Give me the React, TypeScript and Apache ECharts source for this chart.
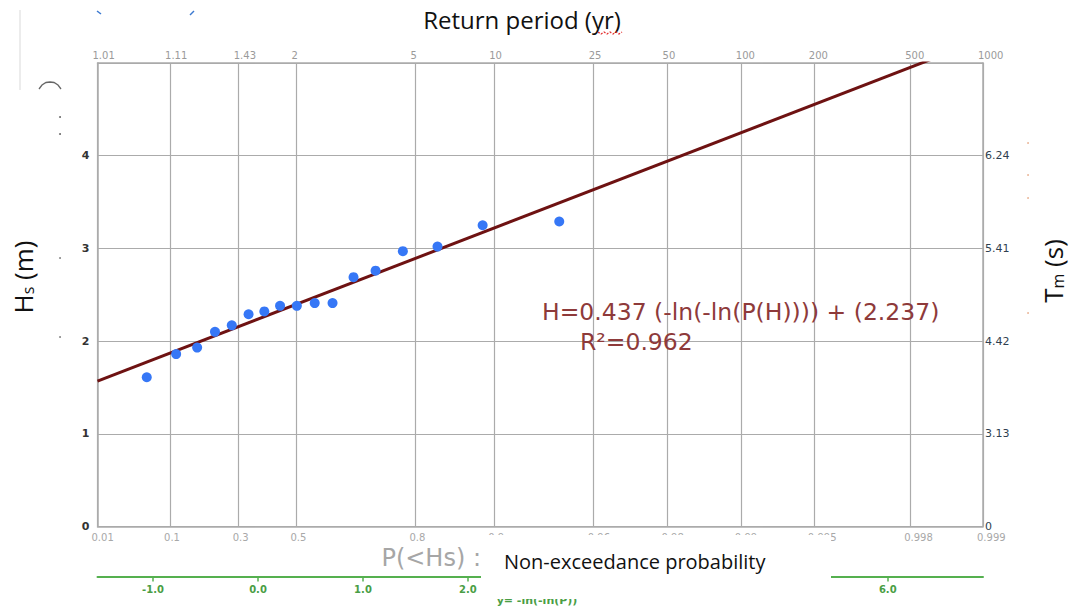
import React, { useEffect, useRef } from 'react';
import * as echarts from 'echarts';

// Return-period ticks (top axis) and their non-exceedance probabilities (bottom axis)
const returnPeriods = [1.01, 1.11, 1.43, 2, 5, 10, 25, 50, 100, 200, 500, 1000];
const returnPeriodLabels = ['1.01', '1.11', '1.43', '2', '5', '10', '25', '50', '100', '200', '500', '1000'];
const probabilityLabels = ['0.01', '0.1', '0.3', '0.5', '0.8', '0.9', '0.96', '0.98', '0.99', '0.995', '0.998', '0.999'];
// Gumbel reduced-variate ticks (green axis)
const reducedTicks = [-1, 0, 1, 2, 6];
// Hs ticks (left) and matching Tm labels (right)
const hsTicks = [0, 1, 2, 3, 4];
const tmLabels = ['0', '3.13', '4.42', '5.41', '6.24'];
// Observed annual maxima: reduced variate y = -ln(-ln(P)) and Hs (m)
const obsReduced = [-1.06, -0.78, -0.58, -0.41, -0.25, -0.09, 0.06, 0.21, 0.37, 0.54, 0.71, 0.91, 1.12, 1.38, 1.71, 2.14, 2.87];
const obsHs = [1.61, 1.86, 1.93, 2.10, 2.17, 2.29, 2.32, 2.38, 2.38, 2.41, 2.41, 2.69, 2.76, 2.97, 3.02, 3.25, 3.29];
// Fitted Gumbel line
const fitSlope = 0.437;
const fitIntercept = 2.237;
const rSquared = 0.962;

const gumbel = (T: number) => -Math.log(-Math.log(1 - 1 / T));
const periodTicks = returnPeriods.map(gumbel);
const X_MIN = periodTicks[0];
const X_MAX = periodTicks[periodTicks.length - 1];

const labelAt = (labels: string[]) => (v: number) => {
  const i = periodTicks.findIndex((t) => Math.abs(t - v) < 1e-6);
  return i >= 0 ? labels[i] : '';
};

const GREEN = '#55b04f';
const GRID = '#ababab';
const VERDANA = '"DejaVu Sans", Verdana, sans-serif';
const SANS = '"Open Sans", "Noto Sans", sans-serif';

export default function App() {
  const ref = useRef<HTMLDivElement>(null);
  useEffect(() => {
    if (!ref.current) return;
    const chart = echarts.init(ref.current, undefined, { renderer: 'svg' });
    const scatterData = obsReduced.map((x, i) => [x, obsHs[i]]);
    const lineData = [X_MIN, X_MAX].map((x) => [x, fitSlope * x + fitIntercept]);
    const richName = {
      a: { font: `26px ${SANS}`, fill: '#111', lineHeight: 32, verticalAlign: 'bottom' },
      b: { font: `16px ${SANS}`, fill: '#111', lineHeight: 18, verticalAlign: 'bottom' },
    };
    chart.setOption({
      animation: false,
      backgroundColor: '#ffffff',
      grid: { left: 97.5, right: 97, top: 63, bottom: 81.5, containLabel: false, outerBoundsMode: 'none' },
      xAxis: [
        {
          type: 'value', position: 'bottom', min: X_MIN, max: X_MAX,
          axisLine: { show: true, onZero: false, lineStyle: { color: GRID, width: 1.5 } },
          axisTick: { show: false, customValues: periodTicks },
          splitLine: { show: true, lineStyle: { color: GRID, width: 1.2 } },
          axisLabel: {
            customValues: periodTicks, formatter: labelAt(probabilityLabels),
            color: '#a8a8a8', fontSize: 10, fontFamily: VERDANA, margin: 6,
            align: 'left', padding: [0, 0, 0, -6],
          },
        },
        {
          type: 'value', position: 'top', min: X_MIN, max: X_MAX,
          axisLine: { show: true, onZero: false, lineStyle: { color: GRID, width: 1.5 } },
          axisTick: { show: false, customValues: periodTicks },
          splitLine: { show: false },
          axisLabel: {
            customValues: periodTicks, formatter: labelAt(returnPeriodLabels),
            color: '#9a9a9a', fontSize: 10, fontFamily: VERDANA, margin: 3,
            align: 'left', padding: [0, 0, 0, -5],
          },
        },
        {
          type: 'value', position: 'bottom', offset: 50, min: X_MIN, max: X_MAX,
          axisLine: { show: true, onZero: false, lineStyle: { color: GREEN, width: 2 } },
          axisTick: { show: true, customValues: reducedTicks, length: 5, lineStyle: { color: GREEN, width: 1.5 } },
          splitLine: { show: false },
          axisLabel: {
            customValues: reducedTicks, formatter: (v: number) => v.toFixed(1),
            color: '#4a9e45', fontSize: 10, fontWeight: 'bold', fontFamily: VERDANA, margin: 8,
          },
        },
      ],
      yAxis: [
        {
          type: 'value', position: 'left', min: 0, max: 5, interval: 1,
          axisLine: { show: true, onZero: false, lineStyle: { color: GRID, width: 1.5 } },
          axisTick: { show: false },
          splitLine: { show: true, lineStyle: { color: GRID, width: 1.2 } },
          axisLabel: {
            formatter: (v: number) => (hsTicks.includes(v) ? String(v) : ''),
            color: '#333333', fontSize: 11, fontWeight: 'bold', fontFamily: VERDANA, margin: 8,
          },
        },
        {
          type: 'value', position: 'right', min: 0, max: 5, interval: 1,
          axisLine: { show: true, onZero: false, lineStyle: { color: GRID, width: 1.5 } },
          axisTick: { show: false },
          splitLine: { show: false },
          axisLabel: {
            formatter: (v: number) => { const i = hsTicks.indexOf(v); return i >= 0 ? tmLabels[i] : ''; },
            color: '#2f3f50', fontSize: 11, fontFamily: VERDANA, margin: 2,
          },
        },
      ],
      series: [
        {
          type: 'line', xAxisIndex: 0, yAxisIndex: 0, data: lineData, symbol: 'none', clip: true,
          lineStyle: { color: '#6e1212', width: 3 }, z: 3, silent: true,
        },
        {
          type: 'scatter', xAxisIndex: 0, yAxisIndex: 0, data: scatterData, symbol: 'circle', symbolSize: 10,
          itemStyle: { color: '#3677f6', opacity: 1 }, z: 4,
        },
      ],
      graphic: [
        // faint artefacts from the original screenshot
        { type: 'line', z: 10, shape: { x1: 20, y1: 10, x2: 20, y2: 90 }, style: { stroke: '#e6e6e6', lineWidth: 1.5 } },
        {
          type: 'polyline', z: 10,
          shape: { points: [[39, 89], [42, 85], [46, 82.5], [50, 82], [54, 82.5], [58, 85], [61, 89]] },
          style: { stroke: '#666', lineWidth: 1.3, fill: null },
        },
        { type: 'circle', z: 10, shape: { cx: 60, cy: 117, r: 0.9 }, style: { fill: '#555' } },
        { type: 'circle', z: 10, shape: { cx: 60, cy: 134, r: 0.9 }, style: { fill: '#555' } },
        { type: 'circle', z: 10, shape: { cx: 60, cy: 258, r: 0.9 }, style: { fill: '#777' } },
        { type: 'circle', z: 10, shape: { cx: 60, cy: 337, r: 0.9 }, style: { fill: '#777' } },
        { type: 'circle', z: 10, shape: { cx: 1028, cy: 143, r: 0.9 }, style: { fill: '#e8b090' } },
        { type: 'circle', z: 10, shape: { cx: 1028, cy: 175, r: 0.9 }, style: { fill: '#e8b090' } },
        { type: 'circle', z: 10, shape: { cx: 1028, cy: 198, r: 0.9 }, style: { fill: '#e8b090' } },
        { type: 'circle', z: 10, shape: { cx: 1028, cy: 313, r: 0.9 }, style: { fill: '#e8b090' } },
        { type: 'line', z: 10, shape: { x1: 97, y1: 11, x2: 101, y2: 14 }, style: { stroke: '#3b79d0', lineWidth: 1.5 } },
        { type: 'line', z: 10, shape: { x1: 190, y1: 15, x2: 194, y2: 11 }, style: { stroke: '#3b79d0', lineWidth: 1.5 } },
        // title
        {
          type: 'text', z: 20, x: 522, y: 19,
          style: { text: 'Return period (yr)', font: `24px ${SANS}`, fill: '#111', align: 'center', verticalAlign: 'middle' },
        },
        {
          type: 'polyline', z: 21,
          shape: { points: [[598, 32], [601, 34], [604, 32], [607, 34], [610, 32], [613, 34], [616, 32], [619, 34], [622, 32]] },
          style: { stroke: '#e53030', lineWidth: 1.3, fill: null, lineDash: [2, 1.5] },
        },
        // left axis name
        {
          type: 'text', z: 20, x: 20, y: 277, rotation: Math.PI / 2,
          style: { text: '{a|H}{b|s}{a| (m)}', align: 'center', verticalAlign: 'middle', rich: richName },
        },
        // right axis name
        {
          type: 'text', z: 20, x: 1050, y: 271, rotation: Math.PI / 2,
          style: { text: '{a|T}{b|m}{a| (s)}', align: 'center', verticalAlign: 'middle', rich: richName },
        },
        // fit annotation
        {
          type: 'text', z: 20, x: 542, y: 312,
          style: {
            text: `H=${fitSlope} (-ln(-ln(P(H)))) + (${fitIntercept})`,
            font: `23.5px ${VERDANA}`, fill: '#8e3a3a', align: 'left', verticalAlign: 'middle',
          },
        },
        {
          type: 'text', z: 20, x: 580, y: 342,
          style: { text: `R²=${rSquared}`, font: `23.5px ${VERDANA}`, fill: '#8e3a3a', align: 'left', verticalAlign: 'middle' },
        },
        // bottom captions
        {
          type: 'text', z: 20, x: 481, y: 558,
          style: { text: 'P(<Hs) :', font: `24px ${VERDANA}`, fill: '#a6a6a6', align: 'right', verticalAlign: 'middle' },
        },
        {
          type: 'text', z: 40, x: 537, y: 600,
          style: { text: 'y= -ln(-ln(P))', font: `bold 11px ${VERDANA}`, fill: '#4a9e45', align: 'center', verticalAlign: 'middle' },
        },
        { type: 'rect', z: 50, shape: { x: 481, y: 535, width: 350, height: 64 }, style: { fill: '#ffffff' } },
        {
          type: 'text', z: 60, x: 504, y: 561,
          style: { text: 'Non-exceedance probability', font: `20px ${SANS}`, fill: '#111', align: 'left', verticalAlign: 'middle' },
        },
      ],
    });
    return () => chart.dispose();
  }, []);
  return <div ref={ref} style={{ position: 'fixed', left: 0, top: 0, width: 1080, height: 608 }} />;
}
